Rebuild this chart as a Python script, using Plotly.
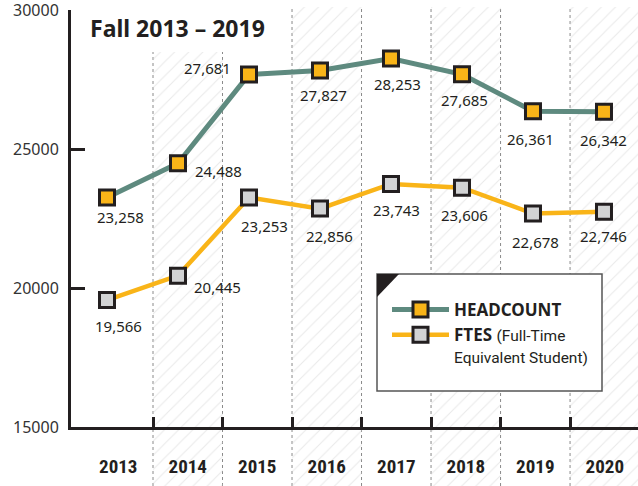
import plotly.graph_objects as go

# ---------------- data ----------------
years = ["2013", "2014", "2015", "2016", "2017", "2018", "2019", "2020"]
headcount = [23258, 24488, 27681, 27827, 28253, 27685, 26361, 26342]
ftes = [19566, 20445, 23253, 22856, 23743, 23606, 22678, 22746]
y_ticks = [15000, 20000, 25000, 30000]
title_text = "Fall 2013 – 2019"

# ---------------- style / layout helpers ----------------
W, H = 638, 486
ML = 71                      # left margin (px)
PW = W - ML                  # plot width
DARK = "#231F20"
TEAL = "#5E8A7F"
GOLD = "#F9B418"
GREY_FILL = "#D2D3D4"
NARROW = "Roboto Condensed, Liberation Sans Narrow, Arial Narrow, DejaVu Sans Condensed, Roboto"

# label offsets in px (dx right, dy down) relative to each marker
hc_off = [(13, 20), (40, 8), (-42, -6), (4, 25), (7, 25), (3, 26), (-2, 28), (0, 28)]
ft_off = [(11, 26), (39, 11), (15, 28), (10, 27), (6, 26), (3, 27), (3, 28), (0, 24)]

xs = list(range(len(years)))
XR = [-0.507, 7.479]
B0, BW = 0.648, 0.979
bounds = [B0 + BW * k for k in range(len(years) - 1)]
centers = [B0 + BW * (k - 0.5) for k in range(len(years))]

def px_to_paper_x(px):
    return (px - ML) / PW

def px_to_paper_y(py):
    return (H - py) / H

# hatched bands (every other year, starting with 2014)
band_x, band_w, band_h = [], [], []
for k in range(1, len(years), 2):
    left = bounds[k - 1]
    right = bounds[k] if k < len(bounds) else XR[1] + 0.2
    band_x.append((left + right) / 2)
    band_w.append(right - left)
    band_h.append(H - (52 if k == 1 else 7))

fig = go.Figure()

fig.add_trace(go.Bar(
    x=band_x, y=band_h, width=band_w, base=0,
    xaxis="x", yaxis="y",
    marker=dict(color="rgba(0,0,0,0)", line=dict(width=0),
                pattern=dict(shape="/", fgcolor="#D3D3D3", bgcolor="rgba(0,0,0,0)",
                             size=10, solidity=0.1)),
    showlegend=False, hoverinfo="skip",
))

fig.add_trace(go.Scatter(
    x=xs, y=headcount, xaxis="x2", yaxis="y2",
    mode="lines+markers", name="<b>HEADCOUNT</b>",
    line=dict(color=TEAL, width=5),
    marker=dict(symbol="square", size=15, color=GOLD, line=dict(color=DARK, width=3)),
))
fig.add_trace(go.Scatter(
    x=xs, y=ftes, xaxis="x2", yaxis="y2",
    mode="lines+markers",
    name=("<b>FTES</b> <span style='font-family:Roboto; font-size:15.5px'>(Full-Time<br>"
          "Equivalent Student)</span>"),
    line=dict(color=GOLD, width=4.5),
    marker=dict(symbol="square", size=15, color=GREY_FILL, line=dict(color=DARK, width=3)),
))

annotations = []
for series, offs in ((headcount, hc_off), (ftes, ft_off)):
    for x, v, (dx, dy) in zip(xs, series, offs):
        annotations.append(dict(
            x=x, y=v, xref="x2", yref="y2", text=f"{v:,}", showarrow=False,
            xshift=dx, yshift=-dy,
            font=dict(family="Noto Sans", size=15, color=DARK),
        ))

shapes = []
for k, b in enumerate(bounds):
    top = 52 if k < 2 else 7
    shapes.append(dict(type="line", xref="x2", yref="paper", x0=b, x1=b,
                       y0=0, y1=px_to_paper_y(top), layer="below",
                       line=dict(color="#8A8A8A", width=1, dash="3px,3px")))

# legend box with corner triangle
bx0, bx1, by0, by1 = 377, 602, 274, 391
shapes.append(dict(type="rect", xref="paper", yref="paper",
                   x0=px_to_paper_x(bx0), x1=px_to_paper_x(bx1),
                   y0=px_to_paper_y(by1), y1=px_to_paper_y(by0),
                   line=dict(color="#555555", width=1.5), fillcolor="white", layer="above"))
tx0, ty0 = px_to_paper_x(bx0), px_to_paper_y(by0)
tx1, ty1 = px_to_paper_x(bx0 + 22), px_to_paper_y(by0 + 23)
shapes.append(dict(type="path", xref="paper", yref="paper",
                   path=f"M{tx0},{ty0} L{tx1},{ty0} L{tx0},{ty1} Z",
                   fillcolor=DARK, line=dict(width=0), layer="above"))

fig.update_layout(
    width=W, height=H, autosize=False,
    margin=dict(l=ML, r=0, t=0, b=0, pad=0, autoexpand=False),
    paper_bgcolor="white", plot_bgcolor="rgba(0,0,0,0)",
    bargap=0,
    title=dict(text=f"<b>{title_text}</b>", xref="container", yref="container",
               x=90 / W, xanchor="left", y=px_to_paper_y(29), yanchor="middle",
               automargin=False,
               font=dict(family="Noto Sans", size=23, color=DARK)),
    xaxis=dict(domain=[0, 1], range=XR, visible=False, fixedrange=True, automargin=False),
    yaxis=dict(domain=[0, 1], range=[0, H], visible=False, fixedrange=True, automargin=False),
    xaxis2=dict(domain=[0, 1], range=XR, anchor="y2", automargin=False,
                showline=True, linewidth=3, linecolor=DARK,
                showgrid=False, zeroline=False,
                tickmode="array", tickvals=centers, ticktext=years, ticks="",
                ticklabelstandoff=20,
                tickfont=dict(family=NARROW, size=19, color=DARK, weight="bold"),
                minor=dict(tickmode="array", tickvals=bounds, ticks="inside",
                           ticklen=10, tickwidth=3, tickcolor=DARK, showgrid=False)),
    yaxis2=dict(domain=[(H - 427) / H, (H - 10) / H], range=[15000, 30000], anchor="x2",
                automargin=False,
                showline=True, linewidth=3, linecolor=DARK,
                showgrid=False, zeroline=False,
                tickmode="array", tickvals=y_ticks, tickformat="d",
                ticks="inside", ticklen=14, tickwidth=3, tickcolor=DARK,
                ticklabelstandoff=6, ticklabeloverflow="allow",
                tickfont=dict(family="Noto Sans", size=16, color="#333333")),
    legend=dict(x=px_to_paper_x(387), y=px_to_paper_y(292), xanchor="left", yanchor="top",
                bgcolor="rgba(0,0,0,0)", borderwidth=0, itemwidth=57, valign="top",
                font=dict(family="Noto Sans", size=17, color=DARK)),
    annotations=annotations,
    shapes=shapes,
    showlegend=True,
)

fig.write_html("out.html", config={"displayModeBar": False},
               post_script="document.body.style.margin='0';document.body.style.overflow='hidden';")
